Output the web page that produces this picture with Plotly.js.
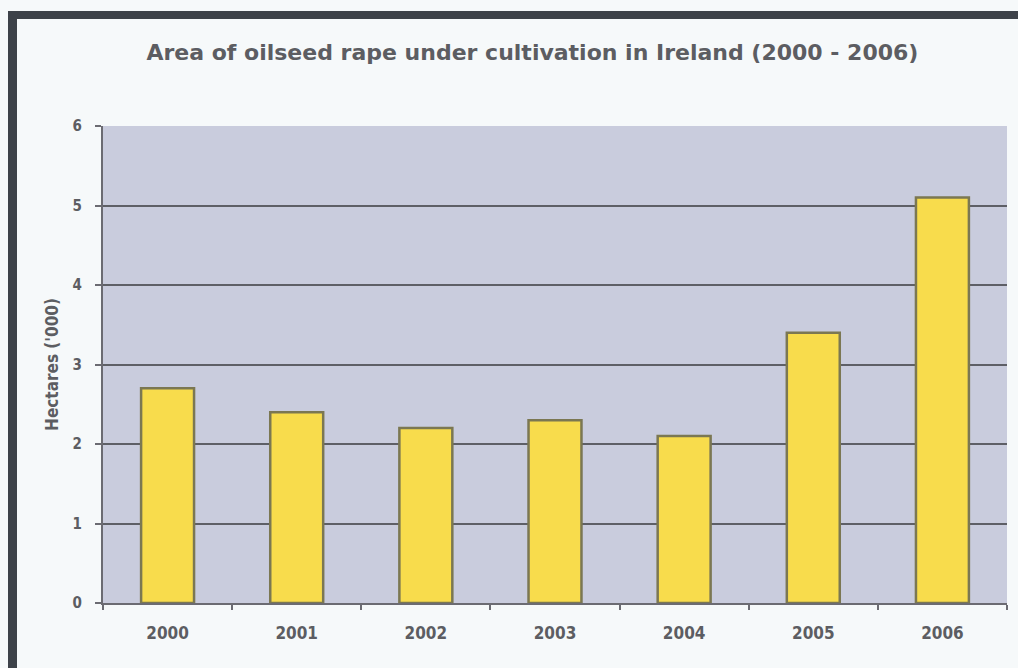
<!DOCTYPE html>
<html>
<head>
<meta charset="utf-8">
<script src="https://cdn.plot.ly/plotly-3.0.1.min.js"></script>
<style>
  html, body { margin: 0; padding: 0; background: #f6f9fa; }
  #wrap { position: relative; width: 1018px; height: 668px; }
  #chart { position: absolute; left: 0; top: 0; width: 1018px; height: 668px; }
  #frame { position: absolute; left: 8px; top: 11px; right: -20px; bottom: -20px;
           border-top: 8px solid #3d4249; border-left: 9px solid #3d4249; pointer-events: none; }
</style>
</head>
<body>
<div id="wrap">
  <div id="chart"></div>
  <div id="frame"></div>
</div>
<script>
const years = ['2000', '2001', '2002', '2003', '2004', '2005', '2006'];
const hectaresThousands = [2.7, 2.4, 2.2, 2.3, 2.1, 3.4, 5.1];
const yTicks = [0, 1, 2, 3, 4, 5, 6];
const chartTitle = 'Area of oilseed rape under cultivation in Ireland (2000 - 2006)';
const yTitle = "Hectares ('000)";

const trace = {
  type: 'bar',
  x: years,
  y: hectaresThousands,
  width: 0.41,
  marker: { color: '#f8dc4c', line: { color: '#7b7752', width: 2.5 } },
  hoverinfo: 'x+y'
};

const layout = {
  width: 1018,
  height: 668,
  paper_bgcolor: '#f6f9fa',
  plot_bgcolor: '#c9ccdd',
  margin: { l: 103, r: 11, t: 126, b: 65 },
  showlegend: false,
  title: {
    text: chartTitle,
    x: 0.523, xanchor: 'center',
    y: 0.922, yanchor: 'middle',
    font: { family: 'DejaVu Sans, Verdana, sans-serif', size: 22, color: '#5c5d62', weight: 'bold' }
  },
  xaxis: {
    type: 'category',
    showgrid: false,
    showline: true, linecolor: '#6b6b72', linewidth: 2,
    ticks: 'outside', tickson: 'boundaries', ticklen: 5, tickcolor: '#6b6b72', tickwidth: 2,
    tickfont: { family: 'DejaVu Sans Condensed, Liberation Sans, sans-serif', size: 17, color: '#5c5d62', weight: 'bold' },
    ticklabelstandoff: 14
  },
  yaxis: {
    range: [0, 6],
    tickvals: yTicks,
    ticktext: yTicks.map(String),
    showgrid: true, gridcolor: '#5e5f66', gridwidth: 2,
    showline: true, linecolor: '#6b6b72', linewidth: 2,
    ticks: 'outside', ticklen: 6, tickcolor: '#6b6b72', tickwidth: 2,
    tickfont: { family: 'DejaVu Sans Condensed, Liberation Sans, sans-serif', size: 15, color: '#5c5d62', weight: 'bold' },
    ticklabelstandoff: 10,
    zeroline: false,
    title: {
      text: yTitle,
      standoff: 10,
      font: { family: 'DejaVu Sans Condensed, Liberation Sans, sans-serif', size: 17, color: '#5c5d62', weight: 'bold' }
    }
  }
};

Plotly.newPlot('chart', [trace], layout, { displayModeBar: false, staticPlot: true });
</script>
</body>
</html>
